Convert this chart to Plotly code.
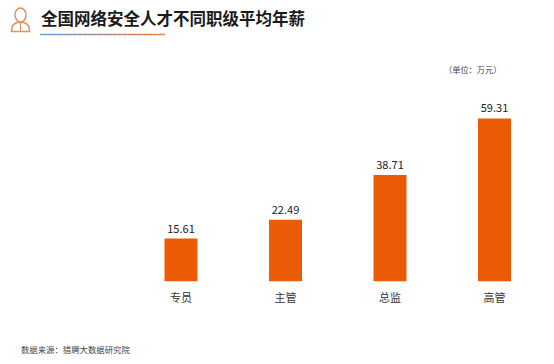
import plotly.graph_objects as go

categories = ["专员", "主管", "总监", "高管"]
values = [15.61, 22.49, 38.71, 59.31]
value_labels = ["15.61", "22.49", "38.71", "59.31"]
title_text = "全国网络安全人才不同职级平均年薪"
unit_text = "（单位：万元）"
source_text = "数据来源：猎聘大数据研究院"

W, H = 554, 364
FONT = "Noto Sans CJK SC"
BAR = "#EB5A04"
ICON = "#E0925F"

def px(x):
    return x / W

def py(y):
    return 1 - y / H

fig = go.Figure(go.Bar(
    x=categories, y=values, text=value_labels, textposition="outside",
    textfont=dict(family=FONT, size=11, color="#222222"),
    marker=dict(color=BAR, line=dict(width=0)), cliponaxis=False,
    hoverinfo="skip",
))

shapes = []
# gradient underline
stops = [(0x5B, 0x9B, 0xE0), (0xF0, 0x7A, 0x30)]
x0, x1, n = 40.0, 165.0, 50
for i in range(n):
    t = i / (n - 1)
    c = tuple(int(stops[0][k] + (stops[1][k] - stops[0][k]) * t) for k in range(3))
    shapes.append(dict(type="line", xref="paper", yref="paper",
                       x0=px(x0 + (x1 - x0) * i / n), x1=px(x0 + (x1 - x0) * (i + 1) / n),
                       y0=py(34.5), y1=py(34.5),
                       line=dict(color="rgb(%d,%d,%d)" % c, width=1.5)))
# person icon
icon_line = dict(color=ICON, width=1.5)
shapes.append(dict(type="circle", xref="paper", yref="paper",
                   x0=px(15), x1=px(26), y0=py(8), y1=py(22), line=icon_line))
shapes.append(dict(type="path", xref="paper", yref="paper",
                   path=("M %f %f L %f %f Q %f %f %f %f L %f %f Q %f %f %f %f" % (
                       px(11.5), py(31.5), px(12), py(27), px(13), py(24), px(17), py(22.5),
                       px(24), py(22.5), px(28), py(24), px(29), py(27)
                   )) + " L %f %f Z" % (px(29.5), py(31.5)),
                   line=icon_line))
shapes.append(dict(type="line", xref="paper", yref="paper",
                   x0=px(20.5), x1=px(20.5), y0=py(22.5), y1=py(31.5), line=dict(color=ICON, width=1)))

fig.update_layout(
    width=W, height=H, autosize=False,
    margin=dict(l=0, r=0, t=0, b=0),
    paper_bgcolor="white", plot_bgcolor="white",
    bargap=0.684, showlegend=False,
    font=dict(family=FONT),
    xaxis=dict(domain=[px(128.75), px(546.75)], showline=False, showgrid=False, zeroline=False,
               ticks="", tickfont=dict(family=FONT, size=11, color="#333333"), ticklabelstandoff=8),
    yaxis=dict(domain=[py(281.5), py(116.5)], range=[0, 60], visible=False),
    shapes=shapes,
    annotations=[
        dict(text="<b>%s</b>" % title_text, x=px(38.5), y=py(18), xref="paper", yref="paper",
             xanchor="left", yanchor="middle", showarrow=False,
             font=dict(family=FONT, size=16.5, color="#1a1a1a")),
        dict(text=unit_text, x=px(503), y=py(69), xref="paper", yref="paper",
             xanchor="right", yanchor="middle", showarrow=False,
             font=dict(family=FONT, size=8.2, color="#444444")),
        dict(text=source_text, x=px(19), y=py(349), xref="paper", yref="paper",
             xanchor="left", yanchor="middle", showarrow=False,
             font=dict(family=FONT, size=8.4, color="#444444")),
    ],
)

fig.write_html("out.html", config=dict(displayModeBar=False),
               post_script="document.body.style.margin='0';document.documentElement.style.overflow='hidden';")
